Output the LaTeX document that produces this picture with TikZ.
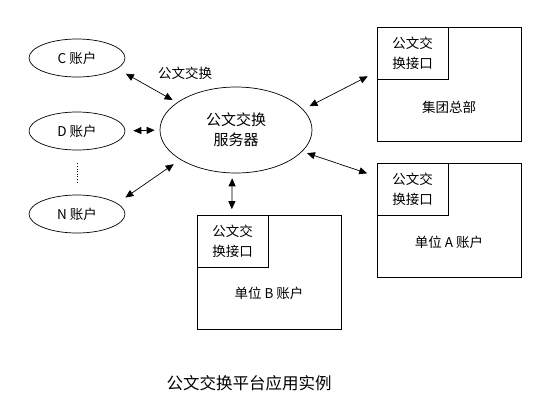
\documentclass[tikz,border=0pt]{standalone}
\usepackage{fontspec}
\setmainfont{Noto Sans CJK SC}
\usetikzlibrary{arrows.meta,positioning,shapes.geometric}
\tikzset{
  acct/.style   = {ellipse, draw, line width=0.7pt, minimum width=96pt, minimum height=38pt,
                   inner sep=0pt, font=\fontsize{13.5}{20}\selectfont},
  server/.style = {acct, minimum width=152pt, minimum height=86pt, align=center,
                   font=\fontsize{15}{20}\selectfont},
  unit/.style   = {rectangle, draw, line width=0.7pt, minimum width=144pt, minimum height=114pt, inner sep=0pt},
  port/.style   = {rectangle, draw, line width=0.7pt, minimum width=71pt, minimum height=52pt, inner sep=0pt,
                   align=center, anchor=north west, font=\fontsize{13.5}{20}\selectfont},
  lbl/.style    = {inner sep=0pt, font=\fontsize{13.5}{20}\selectfont},
  dbl/.style    = {{Triangle[length=8pt,width=7pt]}-{Triangle[length=8pt,width=7pt]}, line width=0.7pt},
}
\begin{document}
\begin{tikzpicture}[x=1pt,y=-1pt]
\useasboundingbox (0,0) rectangle (541,416);
% accounts on the left
\node[acct] (C) at (77,58)  {C 账户};
\node[acct] (D) at (77,131) {D 账户};
\node[acct] (N) at (77,214) {N 账户};
\node[server] (srv) at (236,130) {公文交换\\服务器};
% units with their exchange ports
\node[unit] (hq) at (449,84.5) {};
\node[port] (hqport) at (hq.north west) {公文交\\换接口};
\node[lbl] (hqname) at (449,107) {集团总部};
\node[unit] (ua) at (449,220) {};
\node[port] (uaport) at (ua.north west) {公文交\\换接口};
\node[lbl] (uaname) at (449,242) {单位 A 账户};
\node[unit] (ub) at (269,272.5) {};
\node[port] (ubport) at (ub.north west) {公文交\\换接口};
\node[lbl] (ubname) at (269,293) {单位 B 账户};
\node[lbl] (xlbl) at (185,73) {公文交换};
\node[inner sep=0pt, font=\fontsize{16.5}{20}\selectfont] (cap) at (249,383) {公文交换平台应用实例};
% connectors
\draw[dbl, shorten <=10pt, shorten >=5pt] (C.-15) -- (srv.155);
\draw[dbl, shorten <=8pt, shorten >=5pt] (D.east) -- (srv.west);
\draw[dbl, shorten <=10pt, shorten >=8pt] (N.15) -- (srv.-152);
\draw[line width=0.6pt, dotted, shorten <=13pt, shorten >=12pt] (D.south) -- (N.north);
\draw[dbl, shorten <=7pt, shorten >=10pt] (srv.17) -- (hq.170);
\draw[dbl, shorten <=5pt, shorten >=10pt] (srv.-18) -- (ua.149);
\draw[dbl, shorten <=5pt, shorten >=6pt] (srv.-95) -- (ub.123);
\end{tikzpicture}
\end{document}
